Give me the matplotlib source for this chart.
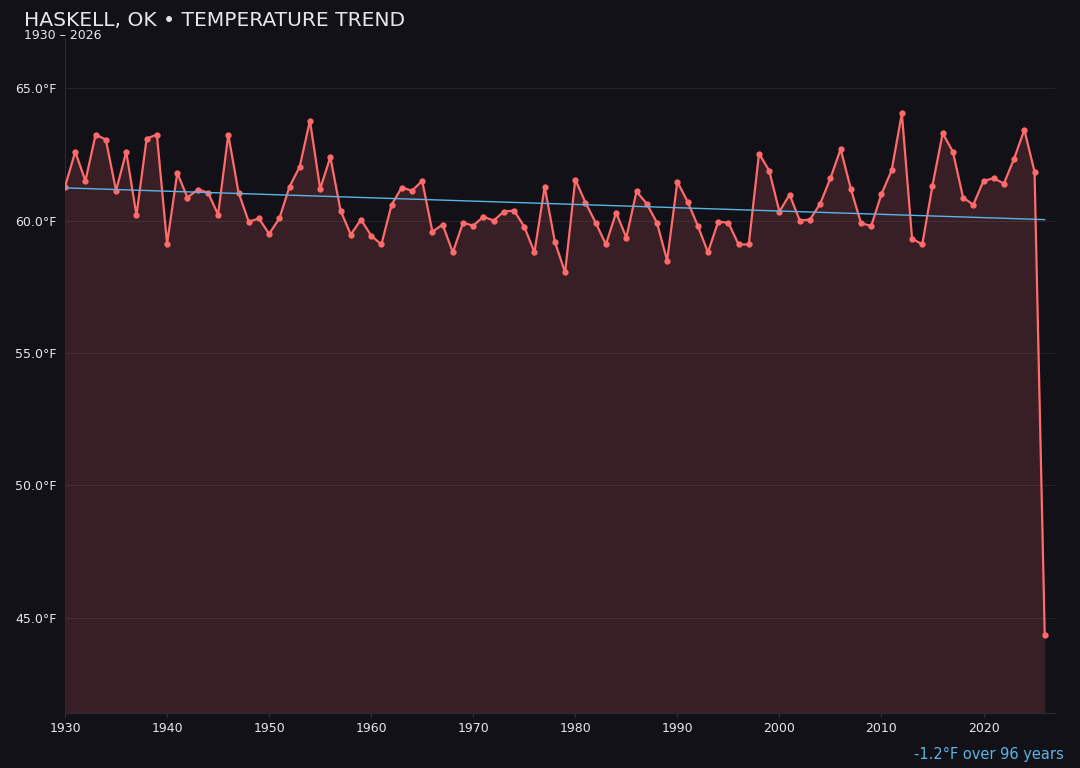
import matplotlib
matplotlib.use("Agg")
import matplotlib.pyplot as plt
import numpy as np

# yearly mean temperature, Haskell OK
years = np.arange(1930, 2027)
temps = [
    61.28, 62.60, 61.50, 63.25, 63.06, 61.13, 62.60, 60.20, 63.10, 63.25,
    59.13, 61.80, 60.87, 61.17, 61.06, 60.23, 63.25, 61.06, 59.96, 60.08,
    59.50, 60.08, 61.28, 62.04, 63.78, 61.20, 62.40, 60.38, 59.47, 60.04,
    59.43, 59.10, 60.60, 61.25, 61.13, 61.50, 59.58, 59.85, 58.80, 59.92,
    59.81, 60.15, 60.00, 60.34, 60.38, 59.77, 58.80, 61.28, 59.20, 58.04,
    61.55, 60.68, 59.92, 59.10, 60.30, 59.36, 61.10, 60.64, 59.92, 58.49,
    61.47, 60.72, 59.81, 58.80, 59.96, 59.92, 59.10, 59.10, 62.53, 61.89,
    60.34, 60.98, 60.00, 60.04, 60.64, 61.60, 62.70, 61.20, 59.90, 59.80,
    61.00, 61.90, 64.05, 59.32, 59.10, 61.32, 63.30, 62.60, 60.87, 60.60,
    61.50, 61.60, 61.40, 62.34, 63.43, 61.85, 44.35,
]
yticks = [45, 50, 55, 60, 65]
xticks = [1930, 1940, 1950, 1960, 1970, 1980, 1990, 2000, 2010, 2020]

bg = "#121118"
line_col = "#ff6b6b"
trend_col = "#5ab4e5"
text_col = "#e6e6ea"

temps = np.array(temps)

fig = plt.figure(figsize=(10.8, 7.68), dpi=100, facecolor=bg)
ax = fig.add_axes([0.0602, 0.0716, 0.9166, 0.879])
ax.set_facecolor(bg)

ymin, ymax = 41.4, 66.9
ax.set_ylim(ymin, ymax)
ax.set_xlim(1930, 2027)

ax.fill_between(years, temps, ymin, color=line_col, alpha=0.16, linewidth=0)
ax.plot(years, temps, color=line_col, linewidth=1.6, marker="o", markersize=3.5, zorder=3)

# linear trend
slope, intercept = np.polyfit(years, temps, 1)
ax.plot(years, slope * years + intercept, color=trend_col, linewidth=1.0, zorder=4)
change = slope * (years[-1] - years[0])

ax.set_yticks(yticks)
ax.set_yticklabels([f"{v:.1f}°F" for v in yticks])
ax.set_xticks(xticks)
ax.tick_params(colors=text_col, labelsize=9, length=3)
ax.tick_params(axis="x", color="#333338")
ax.tick_params(axis="y", length=0, pad=6)
ax.grid(axis="y", color="#262228", linewidth=0.8)
ax.set_axisbelow(True)
for side in ["top", "right"]:
    ax.spines[side].set_visible(False)
for side in ["left", "bottom"]:
    ax.spines[side].set_color("#2c2b32")

fig.text(0.022, 0.973, "HASKELL, OK • TEMPERATURE TREND", color=text_col,
         fontsize=14.6, va="center", ha="left")
fig.text(0.022, 0.954, f"{years[0]} – {years[-1]}", color=text_col,
         fontsize=9, va="center", ha="left")
fig.text(0.985, 0.017, f"{change:+.1f}°F over {years[-1] - years[0]} years".replace("+", ""),
         color=trend_col, fontsize=10.5, ha="right", va="center")

fig.savefig("out.png", dpi=100, facecolor=bg)
